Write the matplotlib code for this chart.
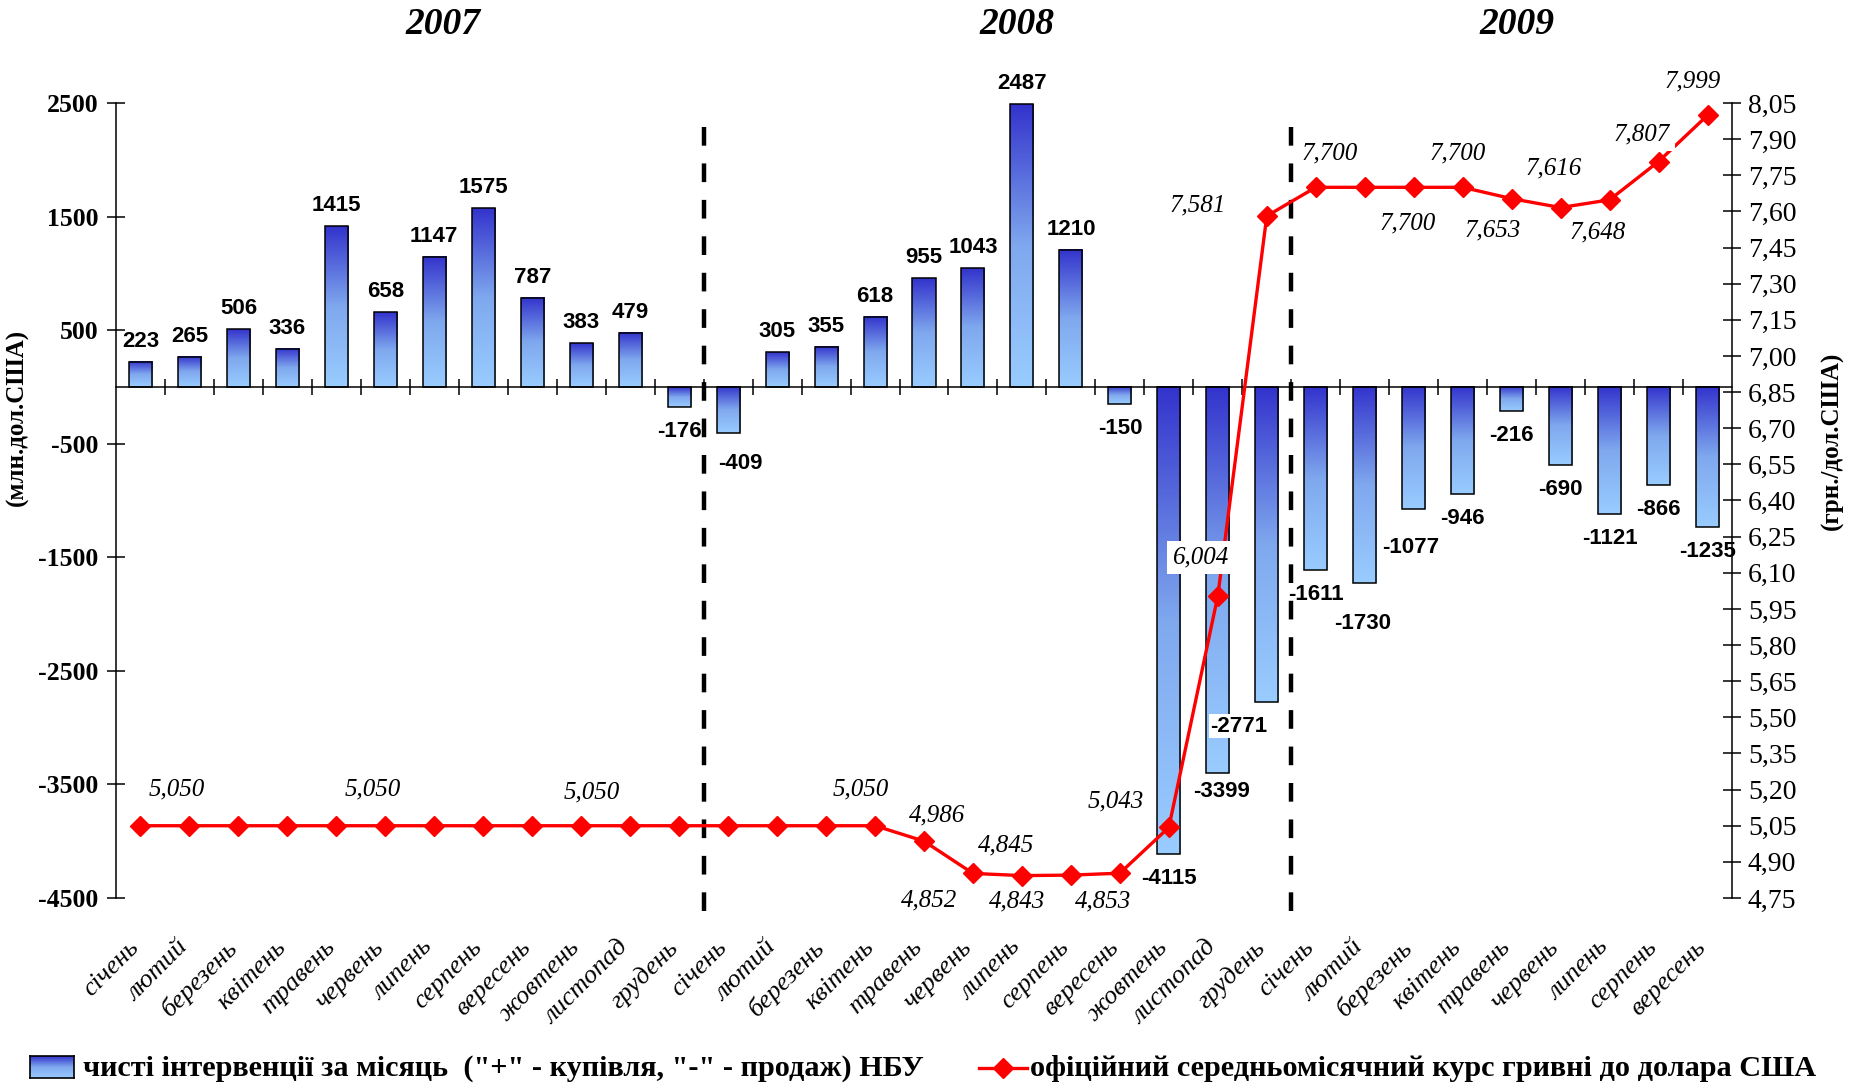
import numpy as np
import matplotlib
matplotlib.use('Agg')
import matplotlib.pyplot as plt
from matplotlib.colors import LinearSegmentedColormap
from matplotlib.lines import Line2D

# ---------------- data ----------------
months = ['січень', 'лютий', 'березень', 'квітень', 'травень', 'червень',
          'липень', 'серпень', 'вересень', 'жовтень', 'листопад', 'грудень']
categories = months + months + months[:9]
years = ['2007', '2008', '2009']

# net NBU interventions, mln USD
interventions = [223, 265, 506, 336, 1415, 658, 1147, 1575, 787, 383, 479, -176,
                 -409, 305, 355, 618, 955, 1043, 2487, 1210, -150, -4115, -3399, -2771,
                 -1611, -1730, -1077, -946, -216, -690, -1121, -866, -1235]

# official average monthly UAH/USD rate
rate = [5.050, 5.050, 5.050, 5.050, 5.050, 5.050, 5.050, 5.050, 5.050, 5.050, 5.050, 5.050,
        5.050, 5.050, 5.050, 5.050, 4.986, 4.852, 4.843, 4.845, 4.853, 5.043, 6.004, 7.581,
        7.700, 7.700, 7.700, 7.700, 7.653, 7.616, 7.648, 7.807, 7.999]

# which rate points carry a label, and where the label sits (pixels from the point)
rate_label_offsets = {0: (36, 36), 5: (-13, 36), 9: (11, 33), 15: (-14, 36),
                      16: (13, 26), 17: (-44, -27), 18: (-5, -26), 19: (-65, 30),
                      20: (-17, -28), 21: (-53, 26), 22: (-17, 38), 23: (-69, 11),
                      24: (14, 34), 26: (-6, -36), 27: (-5, 34), 28: (-19, -32),
                      29: (-7, 39), 30: (-12, -33), 31: (-17, 27), 32: (-15, 34)}

# a few bar labels that Excel had nudged (pixels)
bar_label_nudge = {12: (12, -6), 23: (-28, 0), 25: (-2, -16), 26: (-3, -14), 22: (4, 6)}

legend_bars = 'чисті інтервенції за місяць  ("+" - купівля, "-" - продаж) НБУ'
legend_rate = 'офіційний середньомісячний курс гривні до долара США'

# ---------------- fonts ----------------
serif = ['Liberation Serif', 'DejaVu Serif']
narrow = ['Liberation Sans Narrow', 'Liberation Sans', 'DejaVu Sans']
plt.rcParams['font.family'] = serif
plt.rcParams['axes.unicode_minus'] = False

W, H = 1861, 1086
fig = plt.figure(figsize=(W / 100, H / 100), dpi=100)
ax = fig.add_axes([116 / W, 1 - 898 / H, (1732 - 116) / W, (898 - 103) / H])
ax2 = ax.twinx()

x = np.arange(len(categories))
n = len(categories)

# ---------------- bars with gradient ----------------
cmap = LinearSegmentedColormap.from_list('nbu', ['#99CCFF', '#7FA8EE', '#3333CC'])
grad = np.linspace(1, 0, 256).reshape(-1, 1)
bars = ax.bar(x, interventions, width=0.47, facecolor='none', edgecolor='black',
              linewidth=1.1, zorder=3)
for b in bars:
    x0, y0 = b.get_x(), b.get_y()
    w, h = b.get_width(), b.get_height()
    ax.imshow(grad, extent=[x0, x0 + w, min(y0, y0 + h), max(y0, y0 + h)],
              aspect='auto', cmap=cmap, zorder=2, interpolation='bicubic')

for i, v in enumerate(interventions):
    dx, dy = bar_label_nudge.get(i, (0, 0))
    if v >= 0:
        ax.annotate(str(v), (x[i], v), xytext=(dx, 10 + dy), textcoords='offset pixels',
                    ha='center', va='bottom', fontsize=16, fontweight='bold',
                    family=narrow, zorder=5)
    else:
        box = dict(facecolor='white', edgecolor='none', pad=1) if i == 23 else None
        ax.annotate(str(v), (x[i], v), xytext=(dx, -14 + dy), textcoords='offset pixels',
                    ha='center', va='top', fontsize=16, fontweight='bold',
                    family=narrow, zorder=6, bbox=box)

# year separators
for sep in [11.5, 23.5]:
    ax.plot([sep, sep], [2290, -4640], color='black', lw=3.2, dashes=(4.2, 4),
            zorder=4, clip_on=False)

ax.set_xlim(-0.5, n - 0.5)
ax.set_ylim(-4500, 2500)
ax.set_yticks(np.arange(-4500, 2501, 1000))
ax.tick_params(axis='y', direction='inout', length=13, width=1.1, labelsize=18.5, pad=6)
for t in ax.get_yticklabels():
    t.set_fontweight('bold')

ax.spines['bottom'].set_position(('data', 0))
ax.spines['top'].set_visible(False)
ax.spines['right'].set_visible(False)
ax.spines['left'].set_linewidth(1.1)
ax.spines['bottom'].set_linewidth(1.1)
ax.set_xticks(np.arange(0.5, n - 1, 1))
ax.set_xticklabels([])
ax.tick_params(axis='x', direction='inout', length=12, width=1.1)

trans = ax.get_xaxis_transform()
for i, m in enumerate(categories):
    ax.text(x[i] - 0.1, -0.058, m, transform=trans, rotation=45, rotation_mode='anchor',
            ha='right', va='center', fontsize=19, fontstyle='italic')

for xc, yr in zip([6.18, 17.9, 28.1], years):
    ax.text(xc, 1.099, yr, transform=trans, ha='center', va='center', fontsize=27,
            fontweight='bold', fontstyle='italic')

ax.text(-0.061, 0.605, '(млн.дол.США)', transform=ax.transAxes, rotation=90,
        ha='center', va='center', fontsize=18, fontweight='bold')

# ---------------- exchange rate ----------------
ax2.plot(x, rate, color='#FF0000', lw=2.4, marker='D', markersize=10, zorder=3)
for i, (dx, dy) in rate_label_offsets.items():
    lbl = f'{rate[i]:.3f}'.replace('.', ',')
    box = dict(facecolor='white', edgecolor='none', pad=4) if i in (22, 31) else None
    ax2.annotate(lbl, (x[i], rate[i]), xytext=(dx, dy), textcoords='offset pixels',
                 ha='center', va='center', fontsize=18, fontstyle='italic', bbox=box,
                 zorder=5)

ax2.set_ylim(4.75, 8.05)
ticks = np.arange(4.75, 8.051, 0.15)
ax2.set_yticks(ticks)
ax2.set_yticklabels([f'{t:.2f}'.replace('.', ',') for t in ticks])
ax2.tick_params(axis='y', direction='inout', length=13, width=1.1, labelsize=20, pad=5)
for s in ['top', 'left', 'bottom']:
    ax2.spines[s].set_visible(False)
ax2.spines['right'].set_linewidth(1.1)
ax2.text(1.062, 0.575, '(грн./дол.США)', transform=ax2.transAxes, rotation=90,
         ha='center', va='center', fontsize=18, fontweight='bold')

# ---------------- legend ----------------
lax = fig.add_axes([30 / W, 1 - 1078 / H, 44 / W, 22 / H])
lax.imshow(grad, aspect='auto', cmap=cmap, extent=[0, 1, 0, 1])
lax.set_xticks([])
lax.set_yticks([])
for s in lax.spines.values():
    s.set_linewidth(1.2)

fig.text(83 / W, 1 - 1068 / H, legend_bars, ha='left', va='center', fontsize=21.8,
         fontweight='bold')
fig.add_artist(Line2D([979 / W, 1003 / W, 1027 / W], [1 - 1068 / H] * 3,
                      transform=fig.transFigure, color='#FF0000', lw=2.4,
                      marker='D', markersize=10, markevery=[1]))
fig.text(1030 / W, 1 - 1068 / H, legend_rate, ha='left', va='center', fontsize=21.8,
         fontweight='bold')

fig.savefig('out.png', dpi=100)
